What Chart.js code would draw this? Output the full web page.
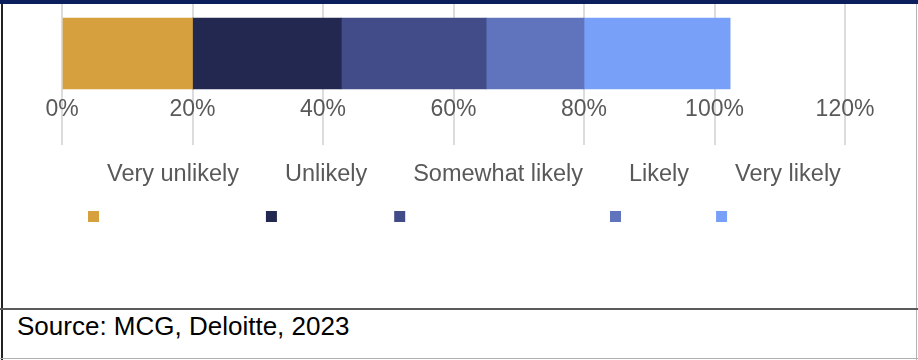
<!DOCTYPE html>
<html>
<head>
<meta charset="utf-8">
<script src="https://cdn.jsdelivr.net/npm/chart.js@4.4.0/dist/chart.umd.min.js"></script>
<style>
  body { margin: 0; background: #fff; }
  #wrap { position: relative; width: 918px; height: 360px; overflow: hidden; font-family: "Liberation Sans", Arial, sans-serif; }
  #topbar { position: absolute; left: 0; top: 0; width: 918px; height: 4px; background: #0b1f5d; }
  #leftline { position: absolute; left: 1px; top: 4px; width: 2px; height: 356px; background: #222; }
  #rightline { position: absolute; left: 916px; top: 4px; width: 1px; height: 356px; background: #b5b5b5; }
  #sep { position: absolute; left: 0; top: 308px; width: 918px; height: 2px; background: #5a5a5a; }
  #bottomline { position: absolute; left: 0; top: 358px; width: 918px; height: 1px; background: #b0b0b0; }
  #source { position: absolute; left: 17px; top: 311px; font-size: 26px; color: #000; white-space: nowrap; }
  #chart { position: absolute; left: 0; top: 0; }
</style>
</head>
<body>
<div id="wrap">
  <canvas id="chart" width="918" height="300"></canvas>
  <div id="topbar"></div>
  <div id="leftline"></div>
  <div id="rightline"></div>
  <div id="sep"></div>
  <div id="bottomline"></div>
  <div id="source">Source: MCG, Deloitte, 2023</div>
</div>
<script>
  // values (share of respondents, %)
  const categories = [''];
  const seriesNames = ['Very unlikely', 'Unlikely', 'Somewhat likely', 'Likely', 'Very likely'];
  const seriesValues = [20, 22.8, 22.2, 15, 22.4];
  const seriesColors = ['#d6a03e', '#232850', '#414c88', '#6073bd', '#78a0f8'];
  const tickValues = [0, 20, 40, 60, 80, 100, 120];

  // legend drawn by hand: labels in a row, squares a line below
  const rowLegend = {
    id: 'rowLegend',
    afterDraw(chart) {
      const ctx = chart.ctx;
      const gap = 46;
      let x = chart.chartArea.left + 45;
      ctx.save();
      ctx.font = '23.5px "Liberation Sans", Arial, sans-serif';
      ctx.textBaseline = 'middle';
      ctx.textAlign = 'left';
      chart.data.datasets.forEach(function(ds) {
        ctx.fillStyle = '#595959';
        ctx.fillText(ds.label, x, 174.5);
        ctx.fillStyle = ds.backgroundColor;
        ctx.fillRect(x - 19, 211, 11, 11);
        x += ctx.measureText(ds.label).width + gap;
      });
      ctx.restore();
    }
  };

  const datasets = seriesNames.map(function(name, i) {
    return {
      label: name,
      data: [seriesValues[i]],
      backgroundColor: seriesColors[i],
      borderWidth: 0,
      barThickness: 71
    };
  });

  new Chart(document.getElementById('chart'), {
    type: 'bar',
    data: { labels: categories, datasets: datasets },
    options: {
      indexAxis: 'y',
      responsive: false,
      animation: false,
      layout: { padding: { left: 62, right: 73, top: 4, bottom: 196 } },
      plugins: {
        legend: { display: false },
        tooltip: { enabled: false }
      },
      scales: {
        x: {
          stacked: true,
          min: tickValues[0],
          max: tickValues[tickValues.length - 1],
          afterBuildTicks: function(scale) {
            scale.ticks = tickValues.map(function(v) { return { value: v }; });
          },
          border: { display: false },
          // tick marks carry the grid lines down past the labels
          grid: { color: '#dcdcdc', lineWidth: 2, drawTicks: true, tickLength: 42 },
          ticks: {
            mirror: true,
            padding: -20.5,
            color: '#595959',
            font: { family: '"Liberation Sans", Arial, sans-serif', size: 23 },
            maxRotation: 0,
            callback: function(v) { return v + '%'; }
          }
        },
        y: {
          stacked: true,
          display: false
        }
      }
    },
    plugins: [rowLegend]
  });
</script>
</body>
</html>
